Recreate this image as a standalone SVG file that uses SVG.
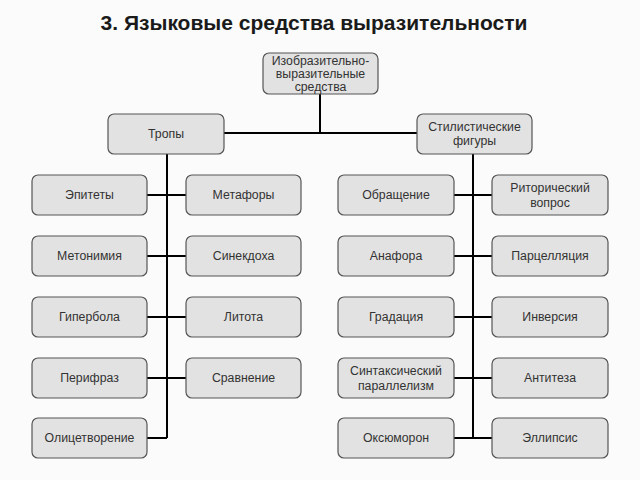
<svg xmlns="http://www.w3.org/2000/svg" width="640" height="480" viewBox="0 0 640 480">
<style>
.bg{fill:#fbfbfb}
.box{fill:#e2e2e2;stroke:#555;stroke-width:1.2}
.t{font-family:"Liberation Sans",Arial,sans-serif;font-size:12.3px;fill:#333;text-anchor:middle}
.title{font-family:"Liberation Sans",Arial,sans-serif;font-size:21px;font-weight:bold;fill:#1a1a1a;text-anchor:middle}
.c{stroke:#000;stroke-width:2;fill:none}
</style>
<rect class="bg" x="0" y="0" width="640" height="480"/>
<text class="title" x="314" y="30">3. Языковые средства выразительности</text>
<g id="connectors">
<path class="c" d="M320,94V133M224,133H417"/>
<path class="c" d="M167,154V438M147,195H186M147,256H186M147,317H186M147,378H186M147,438H167"/>
<path class="c" d="M473,154V438M454,195H492M454,256H492M454,317H492M454,378H492M454,438H492"/>
</g>
<g id="root"><rect class="box" x="263" y="53" width="115" height="41" rx="6"/><text class="t" x="320.5" y="65">Изобразительно-</text><text class="t" x="320.5" y="78">выразительные</text><text class="t" x="320.5" y="91">средства</text></g>
<g id="tropes"><rect class="box" x="108" y="114" width="116" height="40" rx="6"/><text class="t" x="166" y="138">Тропы</text></g>
<g id="figures"><rect class="box" x="417" y="114" width="115" height="40" rx="6"/><text class="t" x="474.5" y="131">Стилистические</text><text class="t" x="474.5" y="145">фигуры</text></g>
<g id="epithets"><rect class="box" x="32" y="175" width="115" height="40" rx="6"/><text class="t" x="89.5" y="199">Эпитеты</text></g>
<g id="metaphors"><rect class="box" x="186" y="175" width="115" height="40" rx="6"/><text class="t" x="243.5" y="199">Метафоры</text></g>
<g id="metonymy"><rect class="box" x="32" y="236" width="115" height="40" rx="6"/><text class="t" x="89.5" y="260">Метонимия</text></g>
<g id="synecdoche"><rect class="box" x="186" y="236" width="115" height="40" rx="6"/><text class="t" x="243.5" y="260">Синекдоха</text></g>
<g id="hyperbole"><rect class="box" x="32" y="297" width="115" height="40" rx="6"/><text class="t" x="89.5" y="321">Гипербола</text></g>
<g id="litotes"><rect class="box" x="186" y="297" width="115" height="40" rx="6"/><text class="t" x="243.5" y="321">Литота</text></g>
<g id="periphrasis"><rect class="box" x="32" y="358" width="115" height="40" rx="6"/><text class="t" x="89.5" y="382">Перифраз</text></g>
<g id="comparison"><rect class="box" x="186" y="358" width="115" height="40" rx="6"/><text class="t" x="243.5" y="382">Сравнение</text></g>
<g id="personification"><rect class="box" x="32" y="418" width="115" height="40" rx="6"/><text class="t" x="89.5" y="442">Олицетворение</text></g>
<g id="address"><rect class="box" x="338" y="175" width="116" height="40" rx="6"/><text class="t" x="396" y="199">Обращение</text></g>
<g id="rhetorical"><rect class="box" x="492" y="175" width="116" height="40" rx="6"/><text class="t" x="550" y="192">Риторический</text><text class="t" x="550" y="207">вопрос</text></g>
<g id="anaphora"><rect class="box" x="338" y="236" width="116" height="40" rx="6"/><text class="t" x="396" y="260">Анафора</text></g>
<g id="parcellation"><rect class="box" x="492" y="236" width="116" height="40" rx="6"/><text class="t" x="550" y="260">Парцелляция</text></g>
<g id="gradation"><rect class="box" x="338" y="297" width="116" height="40" rx="6"/><text class="t" x="396" y="321">Градация</text></g>
<g id="inversion"><rect class="box" x="492" y="297" width="116" height="40" rx="6"/><text class="t" x="550" y="321">Инверсия</text></g>
<g id="parallelism"><rect class="box" x="338" y="358" width="116" height="40" rx="6"/><text class="t" x="396" y="375">Синтаксический</text><text class="t" x="396" y="390">параллелизм</text></g>
<g id="antithesis"><rect class="box" x="492" y="358" width="116" height="40" rx="6"/><text class="t" x="550" y="382">Антитеза</text></g>
<g id="oxymoron"><rect class="box" x="338" y="418" width="116" height="40" rx="6"/><text class="t" x="396" y="442">Оксюморон</text></g>
<g id="ellipsis"><rect class="box" x="492" y="418" width="116" height="40" rx="6"/><text class="t" x="550" y="442">Эллипсис</text></g>
</svg>
